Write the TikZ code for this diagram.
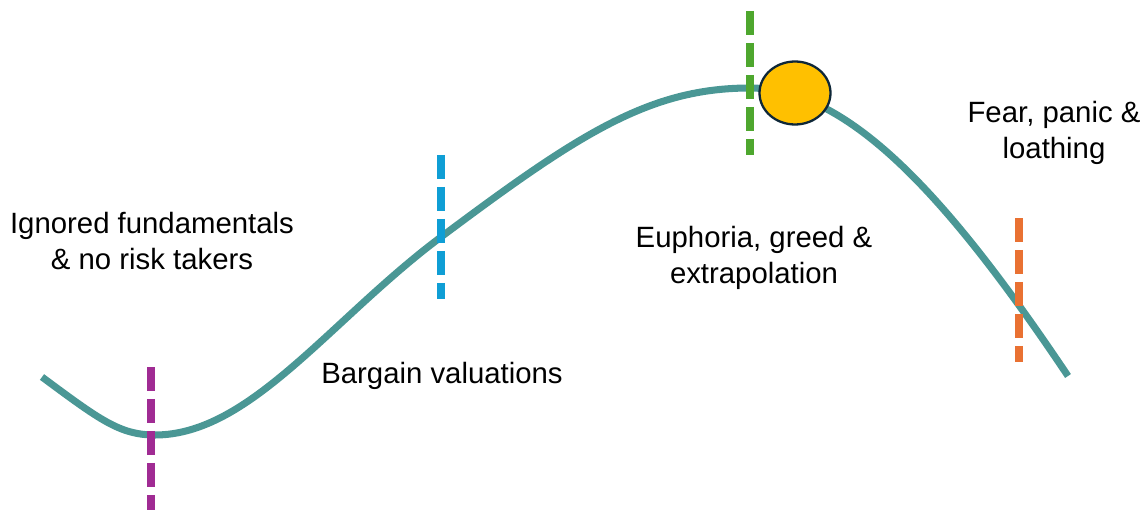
\documentclass[tikz,border=0pt]{standalone}
\usepackage{fontspec}
\setmainfont{Liberation Sans}
\usetikzlibrary{shapes.geometric}
\definecolor{cycleteal}{HTML}{4A9795}
\definecolor{markpurple}{HTML}{A02B93}
\definecolor{markblue}{HTML}{0F9ED5}
\definecolor{markgreen}{HTML}{4EA72E}
\definecolor{markorange}{HTML}{E97132}
\definecolor{sunfill}{HTML}{FFC000}
\definecolor{sunline}{HTML}{0E2738}
\tikzset{
  phase/.style={line width=4.5pt,dash pattern=on 13.66pt off 4.55pt},
  label/.style={align=center,font=\fontsize{16.7}{20.5}\selectfont},
}
\begin{document}
\begin{tikzpicture}[x=0.02cm,y=-0.02cm]
  \useasboundingbox (0,0) rectangle (1143,510);
  \coordinate (S) at (42,377);
  \coordinate (L) at (155,435);
  \coordinate (M) at (441,237);
  \coordinate (T) at (750,88);
  \coordinate (E) at (1068,376);
  \draw[cycleteal,line width=4pt] (S) .. controls (100,420) and (120,435) .. (L)
    .. controls (250,435) and (330,320) .. (M)
    .. controls (580,133) and (650,88) .. (T)
    .. controls (850,88) and (950,200) .. (E);
  \foreach \n/\x/\y/\c in {a/151/367/markpurple,b/441/155/markblue,c/750/11/markgreen,d/1019/218/markorange}{
    \coordinate (\n top) at (\x,\y);
    \coordinate (\n bot) at (\x,\y+144);
    \draw[phase,\c] (\n top) -- (\n bot);
  }
  \node[ellipse,draw=sunline,fill=sunfill,line width=1.3pt,minimum width=1.42cm,minimum height=1.26cm,inner sep=0pt] (sun) at (795,93) {};
  \node[label] (ignored) at (152,241) {Ignored fundamentals\\\& no risk takers};
  \node[label] (bargain) at (442,376) {Bargain valuations};
  \node[label] (euphoria) at (754,258) {Euphoria, greed \&\\extrapolation};
  \node[label] (fear) at (1054,133) {Fear, panic \&\\loathing};
\end{tikzpicture}
\end{document}
